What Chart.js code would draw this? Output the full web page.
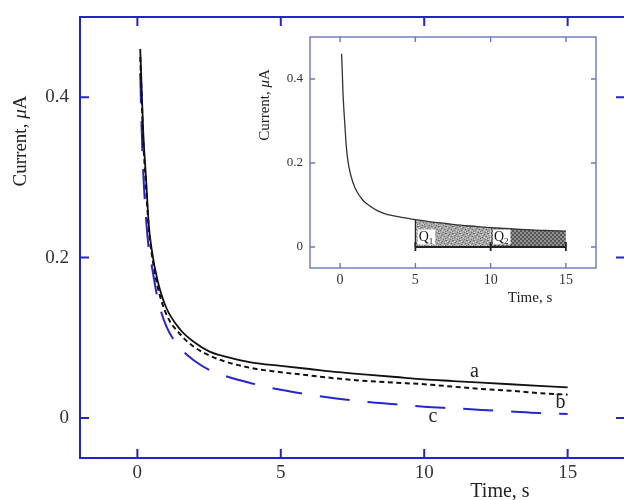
<!DOCTYPE html>
<html><head><meta charset="utf-8">
<script src="https://cdn.jsdelivr.net/npm/chart.js@4.4.1/dist/chart.umd.min.js"></script>
<style>
html,body{margin:0;padding:0;width:624px;height:500px;overflow:hidden;background:#fff;}
#wrap{position:relative;width:624px;height:500px;overflow:hidden;}
#main{position:absolute;left:0;top:0;}
#inset{position:absolute;left:250px;top:30px;}
</style></head><body>
<div id="wrap">
<canvas id="main" width="632" height="500"></canvas>
<canvas id="inset" width="355" height="290"></canvas>
</div>
<script>
// ---------- data ----------
const time      = [0.1, 0.15, 0.2, 0.3, 0.4, 0.5, 0.7, 1, 1.5, 2, 2.5, 3, 4, 5, 6, 7, 8, 9, 10, 11, 12, 13, 14, 15];
const currentA  = [0.46, 0.41, 0.36, 0.30, 0.24, 0.21, 0.172, 0.138, 0.11, 0.094, 0.083, 0.077, 0.069, 0.065, 0.061, 0.057, 0.054, 0.051, 0.048, 0.046, 0.044, 0.042, 0.040, 0.038];
const currentB  = [0.45, 0.40, 0.35, 0.29, 0.235, 0.205, 0.165, 0.13, 0.104, 0.088, 0.078, 0.071, 0.062, 0.057, 0.053, 0.049, 0.046, 0.044, 0.042, 0.039, 0.036, 0.034, 0.031, 0.029];
const currentC  = [0.43, 0.36, 0.31, 0.25, 0.21, 0.19, 0.15, 0.115, 0.087, 0.071, 0.060, 0.053, 0.043, 0.035, 0.029, 0.024, 0.020, 0.017, 0.014, 0.012, 0.010, 0.008, 0.006, 0.005];
const insetTime    = [0.1, 0.15, 0.2, 0.3, 0.4, 0.5, 0.7, 1, 1.5, 2, 2.5, 3, 4, 5, 6, 7, 8, 9, 10, 11, 12, 13, 14, 15];
const insetCurrent = [0.46, 0.41, 0.36, 0.30, 0.245, 0.21, 0.172, 0.14, 0.112, 0.097, 0.086, 0.079, 0.071, 0.065, 0.060, 0.056, 0.052, 0.049, 0.046, 0.044, 0.042, 0.040, 0.039, 0.038];
const q1Range = [5, 10];
const q2Range = [10, 15];
const xTicks = [0, 5, 10, 15];
const xTickLabels = ['0', '5', '10', '15'];
const yTicks = [0, 0.2, 0.4];
const yTickLabels = ['0', '0.2', '0.4'];
const seriesNames = ['a', 'b', 'c'];
const qNames = ['Q', 'Q'];
const qSubs = ['1', '2'];

// ---------- layout / style (not data) ----------
const curveLabelAt = { a: [11.75, 0.057], b: [14.75, 0.019], c: [10.3, 0.002] };
const qLabelAt = [[5.15, 0.006], [10.15, 0.006]];
const SERIF = '"Liberation Serif", "Times New Roman", serif';
const MAIN_BLUE = '#2424c8';

const pts = (xs, ys) => xs.map((x, i) => ({ x, y: ys[i] }));
const sub = (xs, ys, r) => pts(xs, ys).filter(p => p.x >= r[0] && p.x <= r[1]);

function drawMixedRotated(ctx, cx, cy, parts, size, color) {
  ctx.save();
  ctx.translate(cx, cy);
  ctx.rotate(-Math.PI / 2);
  ctx.fillStyle = color;
  ctx.textBaseline = 'middle';
  ctx.textAlign = 'left';
  let total = 0;
  parts.forEach(p => { ctx.font = (p.i ? 'italic ' : '') + size + 'px ' + SERIF; p.w = ctx.measureText(p.t).width; total += p.w; });
  let x = -total / 2;
  parts.forEach(p => { ctx.font = (p.i ? 'italic ' : '') + size + 'px ' + SERIF; ctx.fillText(p.t, x, 0); x += p.w; });
  ctx.restore();
}

function frameAndTicks(chart, color, lw, tl) {
  const { ctx, chartArea: a, scales: { x, y } } = chart;
  ctx.save();
  ctx.strokeStyle = color;
  ctx.lineWidth = lw;
  ctx.strokeRect(a.left, a.top, a.right - a.left, a.bottom - a.top);
  ctx.beginPath();
  xTicks.forEach(v => {
    const px = x.getPixelForValue(v);
    ctx.moveTo(px, a.bottom); ctx.lineTo(px, a.bottom - tl);
    ctx.moveTo(px, a.top); ctx.lineTo(px, a.top + tl);
  });
  yTicks.forEach(v => {
    const py = y.getPixelForValue(v);
    ctx.moveTo(a.left, py); ctx.lineTo(a.left + tl, py);
    ctx.moveTo(a.right, py); ctx.lineTo(a.right - tl, py);
  });
  ctx.stroke();
  ctx.restore();
}

const mainDeco = {
  id: 'mainDeco',
  afterDraw(chart) {
    const { ctx, scales: { x, y } } = chart;
    frameAndTicks(chart, MAIN_BLUE, 2, 9);
    ctx.save();
    ctx.fillStyle = '#222';
    ctx.font = '20px ' + SERIF;
    ctx.textAlign = 'center';
    ctx.textBaseline = 'middle';
    ctx.fillText('Time, s', 500, 492);
    seriesNames.forEach(n => {
      const p = curveLabelAt[n];
      ctx.fillText(n, x.getPixelForValue(p[0]), y.getPixelForValue(p[1]));
    });
    ctx.restore();
    drawMixedRotated(ctx, 21, 141, [{ t: 'Current, ' }, { t: 'μ', i: true }, { t: 'A' }], 19, '#222');
  }
};

function makePattern(kind) {
  const c = document.createElement('canvas');
  const g = c.getContext('2d');
  if (kind === 1) {
    c.width = 7; c.height = 7;
    g.fillStyle = '#a8a8a8'; g.fillRect(0, 0, 7, 7);
    const dark = [[0,0],[3,1],[5,3],[1,4],[4,6],[6,0],[2,2],[6,5]];
    const light = [[1,1],[5,5],[3,4],[6,2],[0,6]];
    g.fillStyle = '#6e6e6e'; dark.forEach(d => g.fillRect(d[0], d[1], 1, 1));
    g.fillStyle = '#d4d4d4'; light.forEach(d => g.fillRect(d[0], d[1], 1, 1));
  } else {
    c.width = 4; c.height = 4;
    g.fillStyle = '#555555'; g.fillRect(0, 0, 4, 4);
    g.fillStyle = '#929292'; g.fillRect(0, 0, 2, 2); g.fillRect(2, 2, 2, 2);
  }
  return g.createPattern(c, 'repeat');
}

const insetDeco = {
  id: 'insetDeco',
  afterDatasetsDraw(chart) {
    const { ctx, scales: { x, y } } = chart;
    ctx.save();
    const y0 = y.getPixelForValue(0);
    ctx.strokeStyle = '#222';
    ctx.lineWidth = 1.8;
    ctx.beginPath();
    ctx.moveTo(x.getPixelForValue(q1Range[0]), y0);
    ctx.lineTo(x.getPixelForValue(q2Range[1]), y0);
    [q1Range[0], q1Range[1], q2Range[1]].forEach(v => {
      const px = x.getPixelForValue(v);
      ctx.moveTo(px, y0 + 4); ctx.lineTo(px, y0 - 5);
    });
    ctx.stroke();
    const i5 = insetTime.indexOf(q1Range[0]);
    ctx.lineWidth = 1.2;
    ctx.beginPath();
    ctx.moveTo(x.getPixelForValue(q1Range[0]), y0);
    ctx.lineTo(x.getPixelForValue(q1Range[0]), y.getPixelForValue(insetCurrent[i5]));
    ctx.stroke();
    qLabelAt.forEach((p, i) => {
      const px = x.getPixelForValue(p[0]);
      const py = y.getPixelForValue(p[1]);
      ctx.font = '14px ' + SERIF;
      const wq = ctx.measureText(qNames[i]).width;
      ctx.font = '9px ' + SERIF;
      const ws = ctx.measureText(qSubs[i]).width;
      ctx.fillStyle = '#fff';
      ctx.fillRect(px, py - 15, wq + ws + 3, 15);
      ctx.fillStyle = '#111';
      ctx.textBaseline = 'alphabetic';
      ctx.textAlign = 'left';
      ctx.font = '14px ' + SERIF;
      ctx.fillText(qNames[i], px + 1, py - 3);
      ctx.font = '9px ' + SERIF;
      ctx.fillText(qSubs[i], px + 1 + wq, py);
    });
    ctx.restore();
  },
  afterDraw(chart) {
    const { ctx } = chart;
    frameAndTicks(chart, '#6a78bc', 1.4, 5);
    ctx.save();
    ctx.fillStyle = '#222';
    ctx.font = '15px ' + SERIF;
    ctx.textAlign = 'center';
    ctx.textBaseline = 'middle';
    ctx.fillText('Time, s', 280, 268);
    ctx.restore();
    drawMixedRotated(ctx, 15, 75, [{ t: 'Current, ' }, { t: 'μ', i: true }, { t: 'A' }], 15, '#222');
  }
};

const lineDs = (label, data, color, width, dash, order) => ({
  label, data, showLine: true, borderColor: color, borderWidth: width, borderDash: dash,
  pointRadius: 0, fill: false, cubicInterpolationMode: 'monotone', order
});

function zeroPad(s) { s.paddingTop = 0; s.paddingBottom = 0; s.paddingLeft = 0; s.paddingRight = 0; }

function scales(cfg) {
  return {
    x: {
      type: 'linear', min: -2, max: 17,
      afterBuildTicks: s => { s.ticks = xTicks.map(v => ({ value: v })); },
      afterFit: s => { s.height = cfg.xh; zeroPad(s); },
      ticks: { font: { family: SERIF, size: cfg.fx }, color: '#333', padding: cfg.px, maxRotation: 0, autoSkip: false,
               callback: v => xTickLabels[xTicks.indexOf(v)] },
      grid: { display: false, drawTicks: false }, border: { display: false }
    },
    y: {
      type: 'linear', min: -0.05, max: 0.5,
      afterBuildTicks: s => { s.ticks = yTicks.map(v => ({ value: v })); },
      afterFit: s => { s.width = cfg.yw; zeroPad(s); },
      ticks: { font: { family: SERIF, size: cfg.fy }, color: '#333', padding: cfg.py, autoSkip: false,
               callback: v => yTickLabels[yTicks.indexOf(v)] },
      grid: { display: false, drawTicks: false }, border: { display: false }
    }
  };
}

new Chart(document.getElementById('main'), {
  type: 'scatter',
  data: {
    datasets: [
      lineDs('a', pts(time, currentA), '#111', 1.8, [], 0),
      lineDs('b', pts(time, currentB), '#111', 2, [5, 3.5], 1),
      lineDs('c', pts(time, currentC), '#2626cc', 2, [30, 18], 2)
    ]
  },
  options: {
    responsive: false, animation: false, devicePixelRatio: 1,
    layout: { padding: { top: 17, right: 7, left: 0, bottom: 0 } },
    plugins: { legend: { display: false }, tooltip: { enabled: false } },
    scales: scales({ xh: 42, yw: 80, fx: 19, fy: 19, px: 4, py: 11 })
  },
  plugins: [mainDeco]
});

new Chart(document.getElementById('inset'), {
  type: 'scatter',
  data: {
    datasets: [
      lineDs('curve', pts(insetTime, insetCurrent), '#333', 1.3, [], 0),
      Object.assign(lineDs('Q1', sub(insetTime, insetCurrent, q1Range), 'rgba(0,0,0,0)', 0, [], 1),
        { fill: 'origin', backgroundColor: makePattern(1) }),
      Object.assign(lineDs('Q2', sub(insetTime, insetCurrent, q2Range), 'rgba(0,0,0,0)', 0, [], 2),
        { fill: 'origin', backgroundColor: makePattern(2) })
    ]
  },
  options: {
    responsive: false, animation: false, devicePixelRatio: 1,
    layout: { padding: { top: 7, right: 9, left: 0, bottom: 0 } },
    plugins: { legend: { display: false }, tooltip: { enabled: false } },
    scales: scales({ xh: 52, yw: 60, fx: 14, fy: 13, px: 4, py: 7 })
  },
  plugins: [insetDeco]
});
</script>
</body></html>
